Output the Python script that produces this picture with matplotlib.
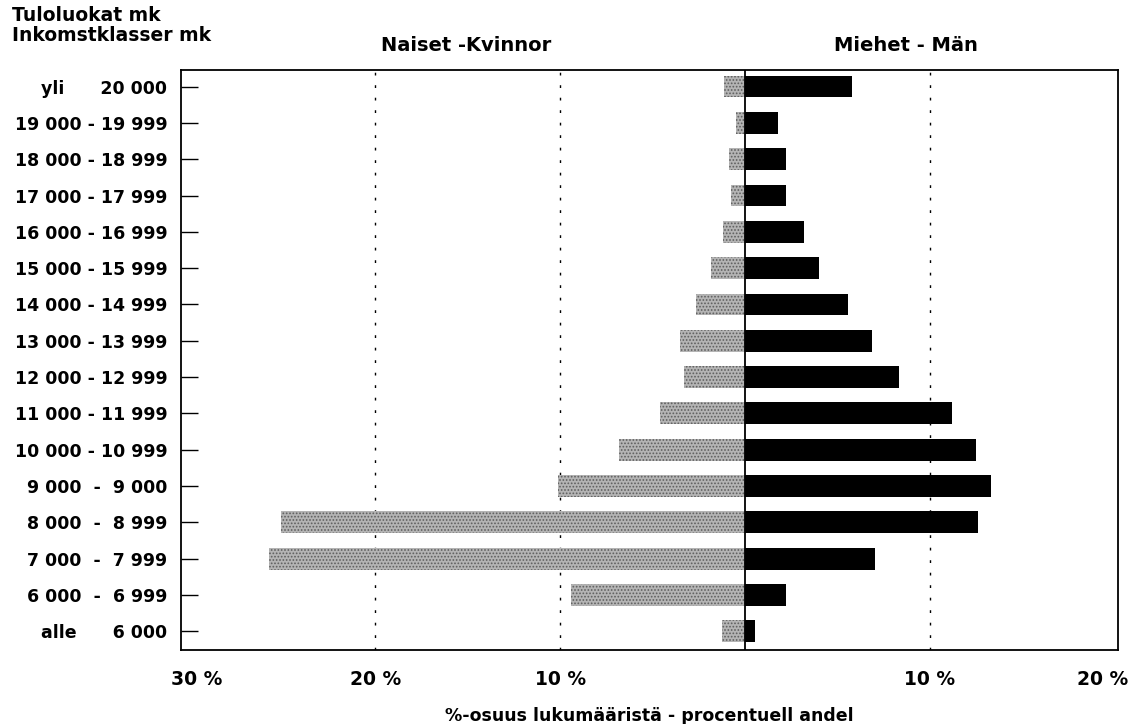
import matplotlib.pyplot as plt
import matplotlib.transforms as mtransforms
import numpy as np

plt.rcParams['font.family'] = ['DejaVu Sans']
plt.rcParams['hatch.linewidth'] = 0.8

# income classes, top to bottom as in the source
classes = ["yli      20 000", "19 000 - 19 999", "18 000 - 18 999", "17 000 - 17 999",
           "16 000 - 16 999", "15 000 - 15 999", "14 000 - 14 999", "13 000 - 13 999",
           "12 000 - 12 999", "11 000 - 11 999", "10 000 - 10 999", "9 000  -  9 000",
           "8 000  -  8 999", "7 000  -  7 999", "6 000  -  6 999", "alle      6 000"]

# share of count, %
women = [1.15, 0.5, 0.85, 0.75, 1.2, 1.85, 2.65, 3.5, 3.3, 4.6, 6.8, 10.1,
         25.1, 25.75, 9.4, 1.25]
men = [5.8, 1.8, 2.2, 2.2, 3.2, 4.0, 5.6, 6.9, 8.35, 11.2, 12.5, 13.3,
       12.6, 7.05, 2.2, 0.55]

xticks = [-30, -20, -10, 10, 20]
xticklabels = ["30 %", "20 %", "10 %", "10 %", "20 %"]

n = len(classes)
y = np.arange(n)[::-1]

fig = plt.figure(figsize=(11.33, 7.24), dpi=100)
ax = fig.add_axes([0.160, 0.102, 0.827, 0.801])

ax.barh(y, [-w for w in women], height=0.6, color='#b4b4b4',
        edgecolor='#5e5e5e', hatch='.....', linewidth=0, zorder=3)
ax.barh(y, men, height=0.6, color='black', linewidth=0, zorder=3)

for gx in [-20, -10, 10]:
    ax.axvline(gx, color='black', lw=1.0, linestyle=(0, (2, 7)), zorder=1)
ax.axvline(0, color='black', lw=1.3, zorder=4)

ax.set_xlim(-30.5, 20.2)
ax.set_ylim(-0.52, n - 0.55)

ax.set_yticks(y)
ax.set_yticklabels(classes, fontsize=12.5, fontweight='bold')
ax.tick_params(axis='y', direction='in', length=12, width=1, pad=10)
ax.set_xticks(xticks)
ax.set_xticklabels(xticklabels, fontsize=13.5, fontweight='bold')
ax.tick_params(axis='x', length=0, pad=14)

# nudge the outer labels a little inward, as in the source
lbls = ax.get_xticklabels()
lbls[0].set_transform(lbls[0].get_transform() +
                      mtransforms.ScaledTranslation(6 / 100, 0, fig.dpi_scale_trans))
lbls[-1].set_transform(lbls[-1].get_transform() +
                       mtransforms.ScaledTranslation(-12 / 100, 0, fig.dpi_scale_trans))

for s in ax.spines.values():
    s.set_linewidth(1.3)

ax.set_xlabel("%-osuus lukumääristä - procentuell andel", fontsize=12.5,
              fontweight='bold', labelpad=13)

fig.text(0.011, 0.992, "Tuloluokat mk\nInkomstklasser mk", fontsize=13.5,
         fontweight='bold', ha='left', va='top', linespacing=1.05)
fig.text(0.411, 0.937, "Naiset -Kvinnor", fontsize=14, fontweight='bold',
         ha='center', va='center')
fig.text(0.800, 0.937, "Miehet - Män", fontsize=14, fontweight='bold',
         ha='center', va='center')

fig.savefig('out.png', dpi=100)
